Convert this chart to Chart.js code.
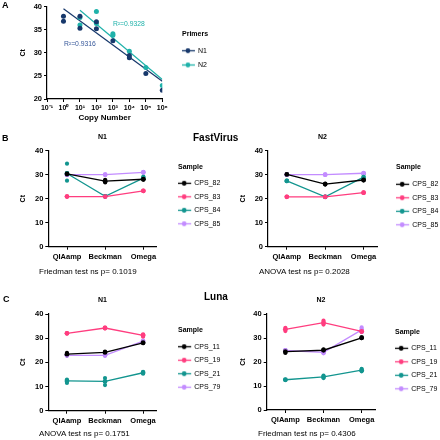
<!DOCTYPE html>
<html>
<head>
<meta charset="utf-8">
<script src="https://cdn.jsdelivr.net/npm/chart.js@4.4.1/dist/chart.umd.min.js"></script>
<style>
  body { margin: 0; background: #fff; }
  #wrap { position: relative; width: 440px; height: 440px; overflow: hidden;
          font-family: "Liberation Sans", Arial, sans-serif; color: #000; }
  canvas { position: absolute; }
  .lbl { position: absolute; white-space: nowrap; line-height: 1; color: #000;
         transform: translateZ(0); }
  .panel { font-weight: bold; font-size: 9px; }
  .group { font-weight: bold; font-size: 10px; }
  .note { font-size: 8px; }
</style>
</head>
<body>
<div id="wrap">
  <canvas id="chartA" width="212" height="125" style="left:0;top:0"></canvas>
  <canvas id="fastN1" width="221" height="135" style="left:0;top:130px"></canvas>
  <canvas id="fastN2" width="219" height="135" style="left:220px;top:130px"></canvas>
  <canvas id="lunaN1" width="221" height="143" style="left:0;top:285px"></canvas>
  <canvas id="lunaN2" width="218" height="143" style="left:220px;top:285px"></canvas>

  <div class="lbl panel" style="left:2px;top:1px">A</div>
  <div class="lbl panel" style="left:2px;top:134px">B</div>
  <div class="lbl panel" style="left:3px;top:295px">C</div>
  <div class="lbl group" style="left:193px;top:133px">FastVirus</div>
  <div class="lbl group" style="left:204px;top:292px">Luna</div>
  <div class="lbl note" style="left:39px;top:268px">Friedman test ns p= 0.1019</div>
  <div class="lbl note" style="left:259px;top:268px">ANOVA test ns p= 0.2028</div>
  <div class="lbl note" style="left:39px;top:430px">ANOVA test ns p= 0.1751</div>
  <div class="lbl note" style="left:258px;top:430px">Friedman test ns p= 0.4306</div>
</div>

<script>
Chart.defaults.font.family = '"Liberation Sans", Arial, sans-serif';
Chart.defaults.color = '#000';
Chart.defaults.animation = false;
Chart.defaults.plugins.tooltip.enabled = false;

// ---- Panel A: standard curve ----
const decadeValues = [0.1, 1, 10, 100, 1000, 10000, 100000, 1000000];
const decadeLabels = ['10⁻¹', '10⁰', '10¹', '10²', '10³', '10⁴', '10⁵', '10⁶'];

const n1Copies = [1, 1, 10, 10, 100, 100, 1000, 10000, 10000, 100000, 1000000];
const n1Ct     = [37.9, 36.8, 37.9, 35.3, 36.7, 35.2, 32.6, 29.4, 28.9, 25.5, 21.9];
const n2Copies = [10, 10, 100, 100, 1000, 1000, 10000, 100000, 1000000];
const n2Ct     = [37.6, 36.0, 38.9, 36.3, 34.1, 33.8, 30.3, 26.8, 22.9];

const n1FitCopies = [1, 1000000];
const n1FitCt     = [39.5, 23.85];
const n2FitCopies = [10, 1000000];
const n2FitCt     = [39.2, 24.2];

const r2Text = ['R²=0.9316', 'R²=0.9328'];

// ---- Panels B / C ----
const methods = ['QIAamp', 'Beckman', 'Omega'];
const sampleColors = ['#000000', '#ff3d7f', '#12958f', '#c38cff'];

const fastSamples = ['CPS_82', 'CPS_83', 'CPS_84', 'CPS_85'];
const fastN1Mean = [
  [30.3, 27.3, 28.1],
  [20.9, 20.9, 23.3],
  [30.5, 21.0, 28.6],
  [30.0, 30.0, 31.0],
];
const fastN1Reps = [
  [[30.7, 30.0], [27.9, 26.8], [28.3, 27.9]],
  [[20.9, 21.0], [20.8, 21.0], [23.1, 23.4]],
  [[34.6, 27.5], [21.1, 20.9], [29.2, 28.1]],
  [[30.1, 29.8], [30.1, 29.9], [31.2, 30.8]],
];
const fastN2Mean = [
  [30.1, 26.1, 27.8],
  [20.8, 20.8, 22.5],
  [27.4, 20.8, 29.0],
  [30.0, 30.0, 30.6],
];
const fastN2Reps = [
  [[30.2, 30.0], [26.3, 25.9], [28.0, 27.6]],
  [[20.9, 20.7], [20.9, 20.7], [22.6, 22.4]],
  [[27.5, 27.3], [20.9, 20.7], [30.4, 28.6]],
  [[30.1, 29.9], [30.1, 29.9], [30.7, 30.5]],
];

const lunaSamples = ['CPS_11', 'CPS_19', 'CPS_21', 'CPS_79'];
const lunaN1Mean = [
  [23.4, 24.1, 28.1],
  [32.0, 34.2, 31.2],
  [12.3, 12.1, 15.7],
  [22.9, 22.9, 28.8],
];
const lunaN1Reps = [
  [[23.9, 22.9], [24.4, 23.7], [28.3, 27.9]],
  [[32.1, 31.9], [34.4, 34.0], [31.6, 30.6]],
  [[12.9, 11.5], [13.5, 10.6], [16.1, 15.3]],
  [[23.1, 22.7], [23.0, 22.7], [29.0, 28.6]],
];
const lunaN2Mean = [
  [24.3, 24.9, 30.1],
  [33.6, 36.4, 32.8],
  [12.6, 13.8, 16.6],
  [24.8, 24.0, 33.4],
];
const lunaN2Reps = [
  [[24.7, 23.8], [25.3, 24.4], [30.3, 29.9]],
  [[34.2, 32.9], [37.2, 35.6], [33.1, 32.5]],
  [[12.7, 12.5], [14.3, 13.3], [17.1, 16.1]],
  [[25.0, 24.6], [24.3, 23.6], [34.4, 32.4]],
];

// legend swatch: short line with a dot, drawn left-shifted inside a wider image
function legendIcon(color, w) {
  const c = document.createElement('canvas');
  c.width = w; c.height = 7;
  const g = c.getContext('2d');
  g.strokeStyle = color;
  g.lineWidth = 1.3;
  g.beginPath(); g.moveTo(0, 3.5); g.lineTo(14, 3.5); g.stroke();
  g.fillStyle = color;
  g.beginPath(); g.arc(7, 3.5, 2.4, 0, Math.PI * 2); g.fill();
  return c;
}

const axisGrid = { display: true, drawOnChartArea: false, drawTicks: true, tickLength: 3, color: '#000', lineWidth: 1 };
const axisBorder = { display: true, color: '#000', width: 1.2 };

function legendFor(title, names, colors, g) {
  const icons = colors.map(c => legendIcon(c, g.iconW));
  return {
    position: 'right',
    align: 'start',
    maxWidth: g.legendW,
    title: { display: true, text: title, position: 'start',
             font: { size: 7, weight: 'bold' }, padding: { top: g.legTop, bottom: g.legBottom } },
    labels: {
      usePointStyle: true,
      pointStyleWidth: g.boxW,
      padding: g.pad,
      font: { size: 7 },
      generateLabels(chart) {
        const items = Chart.defaults.plugins.legend.labels.generateLabels(chart);
        return items
          .filter(it => it.datasetIndex < names.length)
          .map(it => ({ ...it, pointStyle: icons[it.datasetIndex] }));
      },
    },
  };
}

// ---- Panel A chart ----
const navy = '#17386b';
const aqua = '#1fb2aa';

const r2Plugin = {
  id: 'r2Labels',
  afterDatasetsDraw(chart, args, opts) {
    const { ctx, scales: { x, y } } = chart;
    ctx.save();
    ctx.font = '6.8px "Liberation Sans", Arial, sans-serif';
    ctx.textBaseline = 'middle';
    opts.items.forEach(it => {
      ctx.fillStyle = it.color;
      ctx.fillText(it.text, x.getPixelForValue(it.x), y.getPixelForValue(it.y));
    });
    ctx.restore();
  },
};

new Chart('chartA', {
  type: 'scatter',
  data: {
    datasets: [
      { label: 'N1', data: n1Copies.map((x, i) => ({ x, y: n1Ct[i] })),
        backgroundColor: navy, borderColor: navy, pointRadius: 2.5, pointBorderWidth: 0 },
      { label: 'N2', data: n2Copies.map((x, i) => ({ x, y: n2Ct[i] })),
        backgroundColor: aqua, borderColor: aqua, pointRadius: 2.5, pointBorderWidth: 0 },
      { label: 'N1 fit', type: 'line', data: n1FitCopies.map((x, i) => ({ x, y: n1FitCt[i] })),
        borderColor: navy, borderWidth: 1.2, pointRadius: 0, fill: false },
      { label: 'N2 fit', type: 'line', data: n2FitCopies.map((x, i) => ({ x, y: n2FitCt[i] })),
        borderColor: aqua, borderWidth: 1.2, pointRadius: 0, fill: false },
    ],
  },
  options: {
    responsive: false,
    layout: { padding: 0 },
    plugins: {
      legend: legendFor('Primers', ['N1', 'N2'], [navy, aqua],
        { iconW: 22, legendW: 30, legTop: 30.8, legBottom: 0.7, boxW: 5.2, pad: 7.3 }),
      r2Labels: {
        items: [
          { text: r2Text[0], x: 1.07, y: 31.8, color: '#37589a' },
          { text: r2Text[1], x: 1000, y: 36.1, color: '#1fb2aa' },
        ],
      },
    },
    scales: {
      x: {
        type: 'logarithmic', min: 0.1, max: 1000000,
        afterBuildTicks: s => { s.ticks = decadeValues.map(v => ({ value: v })); },
        afterFit: s => { s.height = 26; },
        grid: axisGrid, border: axisBorder,
        ticks: { callback: (v, i) => decadeLabels[i], font: { size: 7, weight: 'bold' },
                 padding: 1.8, maxRotation: 0, autoSkip: false },
        title: { display: true, text: 'Copy Number', font: { size: 8, weight: 'bold' },
                 padding: { top: 0, bottom: 2.2 } },
      },
      y: {
        min: 20, max: 40,
        afterFit: s => { s.width = 47; },
        grid: axisGrid, border: axisBorder,
        ticks: { stepSize: 5, font: { size: 7.5, weight: 'bold' }, padding: 2 },
        title: { display: true, text: 'Ct', font: { size: 7, weight: 'bold' }, padding: { top: 19, bottom: 0 } },
      },
      y2: {
        position: 'right',
        grid: { display: false }, border: { display: false }, ticks: { display: false },
        afterFit: s => { s.width = 19.7; },
      },
    },
  },
  plugins: [r2Plugin],
});

// ---- B / C charts ----
function groupChart(id, title, names, means, reps, g) {
  const datasets = [];
  names.forEach((name, i) => {
    datasets.push({
      label: name,
      data: means[i].map((y, j) => ({ x: j, y })),
      borderColor: sampleColors[i], backgroundColor: sampleColors[i],
      borderWidth: 1.3, pointRadius: 2.4, pointBorderWidth: 0, tension: 0,
    });
  });
  names.forEach((name, i) => {
    datasets.push({
      label: name + ' reps',
      data: reps[i].flatMap((pair, j) => pair.map(y => ({ x: j, y }))),
      borderColor: sampleColors[i], backgroundColor: sampleColors[i],
      showLine: false, pointRadius: 2.1, pointBorderWidth: 0,
    });
  });

  return new Chart(id, {
    type: 'line',
    data: { datasets },
    options: {
      responsive: false,
      layout: { padding: 0 },
      plugins: {
        title: { display: true, text: title, fullSize: false, font: { size: 7, weight: 'bold' },
                 padding: { top: g.titleTop, bottom: g.titleBottom } },
        legend: legendFor('Sample', names, sampleColors,
          { iconW: 21, legendW: 43, legTop: g.legTop, legBottom: g.legBottom, boxW: 6.3, pad: 6.5 }),
      },
      scales: {
        x: {
          type: 'linear', min: -0.49, max: 2.35,
          afterBuildTicks: s => { s.ticks = methods.map((m, i) => ({ value: i })); },
          afterFit: s => { s.height = g.xAxisH; },
          grid: axisGrid, border: axisBorder,
          ticks: { callback: v => methods[v], font: { size: 7.5, weight: 'bold' },
                   padding: 2.5, maxRotation: 0, autoSkip: false },
        },
        y: {
          min: 0, max: 40,
          afterFit: s => { s.width = g.left; },
          grid: axisGrid, border: axisBorder,
          ticks: { stepSize: 10, font: { size: 7.5, weight: 'bold' }, padding: 2 },
          title: { display: true, text: 'Ct', font: { size: 7, weight: 'bold' }, padding: { top: 19, bottom: 0 } },
        },
        y2: {
          position: 'right',
          grid: { display: false }, border: { display: false }, ticks: { display: false },
          afterFit: s => { s.width = g.gap; },
        },
      },
    },
  });
}

groupChart('fastN1', 'N1', fastSamples, fastN1Mean, fastN1Reps,
  { left: 48.3, gap: 21.3, titleTop: 2.8, titleBottom: 9.5, legTop: 33.8, legBottom: 1.1, xAxisH: 18.3 });
groupChart('fastN2', 'N2', fastSamples, fastN2Mean, fastN2Reps,
  { left: 48, gap: 19, titleTop: 2.8, titleBottom: 9.5, legTop: 33.8, legBottom: 2.1, xAxisH: 18.3 });
groupChart('lunaN1', 'N1', lunaSamples, lunaN1Mean, lunaN1Reps,
  { left: 48.3, gap: 21.6, titleTop: 10.8, titleBottom: 9.8, legTop: 41.5, legBottom: 1.8, xAxisH: 17.3 });
groupChart('lunaN2', 'N2', lunaSamples, lunaN2Mean, lunaN2Reps,
  { left: 46.7, gap: 20, titleTop: 10.8, titleBottom: 9.8, legTop: 43.8, legBottom: 1.1, xAxisH: 18 });
</script>
</body>
</html>
